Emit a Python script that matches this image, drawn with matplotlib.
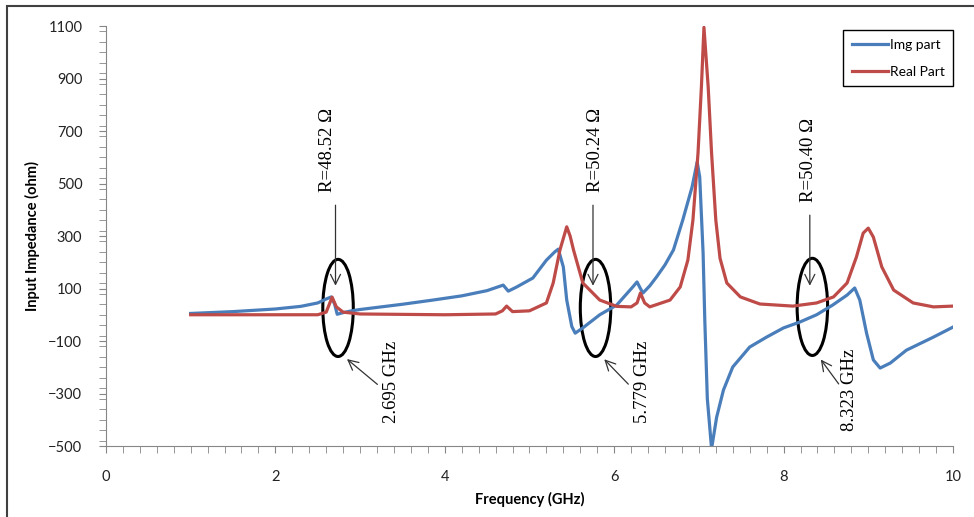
import matplotlib
matplotlib.use("Agg")
import matplotlib.pyplot as plt
from matplotlib.patches import Ellipse, Rectangle
from matplotlib.ticker import MultipleLocator

# frequency (GHz) and imaginary part (ohm)
img_freq = [1.0, 1.5, 2.0, 2.3, 2.5, 2.6, 2.66, 2.7, 2.73, 2.8, 2.9, 3.0, 3.2, 3.5, 3.86,
            4.2, 4.5, 4.69, 4.75, 4.85, 5.04, 5.2, 5.3, 5.34, 5.4, 5.44, 5.5, 5.54, 5.63,
            5.83, 6.03, 6.22, 6.27, 6.31, 6.34, 6.42, 6.5, 6.6, 6.7, 6.81, 6.92, 6.98,
            7.01, 7.05, 7.07, 7.1, 7.15, 7.21, 7.29, 7.4, 7.6, 7.8, 8.0, 8.19, 8.39, 8.58,
            8.75, 8.84, 8.9, 8.98, 9.06, 9.14, 9.26, 9.45, 9.77, 10.0]
img_vals = [5, 12, 22, 32, 45, 60, 68, 40, 2, 8, 15, 20, 28, 40, 56,
            72, 92, 113, 90, 106, 140, 208, 240, 250, 182, 56, -45, -70, -50,
            0, 37, 106, 125, 100, 83, 110, 144, 190, 247, 361, 487, 582,
            525, 235, -20, -320, -510, -390, -287, -199, -123, -85, -50, -28, 0, 37,
            75, 102, 56, -70, -172, -203, -184, -135, -85, -47]

# real part
real_freq = [1.0, 2.5, 2.6, 2.67, 2.72, 2.8, 3.0, 4.0, 4.6, 4.68, 4.73, 4.8, 5.0, 5.2,
             5.28, 5.36, 5.44, 5.48, 5.52, 5.63, 5.83, 6.03, 6.2, 6.27, 6.31, 6.36, 6.42,
             6.66, 6.78, 6.87, 6.93, 6.99, 7.03, 7.06, 7.11, 7.15, 7.2, 7.25, 7.33, 7.49,
             7.72, 8.11, 8.39, 8.59, 8.75, 8.86, 8.94, 9.0, 9.06, 9.16, 9.3, 9.53, 9.77,
             10.0]
real_vals = [0, 0, 10, 67, 30, 10, 3, 0, 3, 15, 33, 12, 15, 45,
             121, 247, 335, 300, 247, 121, 56, 32, 30, 45, 83, 45, 30,
             56, 106, 208, 361, 616, 868, 1095, 868, 616, 361, 215, 121, 68,
             41, 33, 45, 68, 121, 220, 311, 330, 296, 182, 94, 45, 30,
             33]

# annotations: (ellipse freq, ellipse value, label)
marker_freq = [2.74, 5.78, 8.34]
marker_val = [26, 26, 30]
r_labels = ["R=48.52 \u03a9", "R=50.24 \u03a9", "R=50.40 \u03a9"]
f_labels = ["2.695 GHz", "5.779 GHz", "8.323 GHz"]

blue = "#4A7EBB"
red = "#BE4B48"
axis_gray = "#868686"

fig = plt.figure(figsize=(9.74, 5.17), dpi=100)
ax = fig.add_axes([0.1088, 0.1373, 0.8696, 0.8124])

ax.plot(img_freq, img_vals, color=blue, lw=2.3, label="Img part")
ax.plot(real_freq, real_vals, color=red, lw=2.3, label="Real Part")

ax.set_xlim(0, 10)
ax.set_ylim(-500, 1100)
ax.xaxis.set_major_locator(MultipleLocator(2))
ax.xaxis.set_minor_locator(MultipleLocator(0.2))
ax.set_yticks(range(-500, 1101, 200))
ax.yaxis.set_minor_locator(MultipleLocator(40))
for s in ["top", "right"]:
    ax.spines[s].set_visible(False)
for s in ["left", "bottom"]:
    ax.spines[s].set_color(axis_gray)
ax.tick_params(which="both", color=axis_gray, length=5, labelsize=10.5,
               labelcolor="#222222")
ax.tick_params(axis="x", pad=12)
ax.tick_params(axis="y", pad=12)
for lab in ax.get_xticklabels() + ax.get_yticklabels():
    lab.set_family("Lato")

ax.set_xlabel("Frequency (GHz)", fontsize=10.5, fontweight="bold", family="Lato", labelpad=6)
ax.set_ylabel("Input Impedance (ohm)", fontsize=10.5, fontweight="bold", family="Lato", labelpad=6)

# ellipses, arrows and labels
r_text_val = [628, 628, 590]
r_text_dx = [-0.12, 0.0, -0.05]
f_text_dx = [0.63, 0.55, 0.44]
f_text_val = [-255, -255, -285]
tail_dx = [0.49, 0.41, 0.33]
for i in range(3):
    f = marker_freq[i]
    ax.add_patch(Ellipse((f, marker_val[i]), 0.36, 370, fill=False, ec="black", lw=2.2))
    ax.text(f + r_text_dx[i], r_text_val[i], r_labels[i], rotation=90, ha="center",
            va="center", fontsize=13.5, family="Liberation Serif")
    top = r_text_val[i] - 200
    ax.annotate("", xy=(f - 0.03, 100), xytext=(f - 0.03, top),
                arrowprops=dict(arrowstyle="->", color="#333333", lw=0.9,
                                mutation_scale=18))
    ax.text(f + f_text_dx[i], f_text_val[i], f_labels[i], rotation=90,
            ha="center", va="center", fontsize=13.5, family="Liberation Serif")
    ax.annotate("", xy=(f + 0.08, -162), xytext=(f + tail_dx[i], -272),
                arrowprops=dict(arrowstyle="->", color="#333333", lw=0.9,
                                mutation_scale=18))

leg = ax.legend(loc="upper right", bbox_to_anchor=(1.0, 0.99), fancybox=False,
                edgecolor="black", framealpha=1, borderaxespad=0, handlelength=2.6,
                handletextpad=0.15, labelspacing=1.1, borderpad=0.6,
                prop={"family": "Lato", "size": 10})
leg.get_frame().set_linewidth(1.0)

# outer chart frame
fig.patches.append(Rectangle((7 / 974, -0.05), 1.1, 1 - 6 / 517 + 0.05,
                             transform=fig.transFigure, fill=False,
                             ec="#404040", lw=1.5))

fig.savefig("out.png", dpi=100)
